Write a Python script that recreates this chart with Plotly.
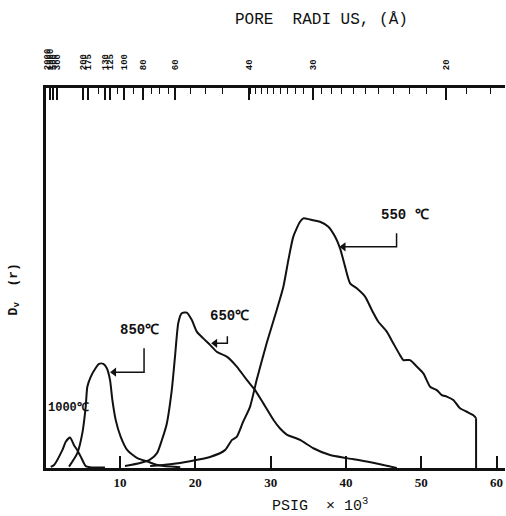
import plotly.graph_objects as go

# ---- data (x = PSIG x 10^3, y = Dv(r) arbitrary units) ----
x1000 = [0.80, 1.24, 2.34, 2.79, 3.36, 3.89, 4.33, 4.78, 5.22, 5.44, 6.0, 8.0]
y1000 = [0.3, 0.8, 4.7, 6.9, 8.0, 6.0, 4.7, 3.0, 1.2, 0.5, 0.2, 0.1]

x850 = [3.23, 4.33, 4.99, 5.44, 5.66, 6.11, 6.77, 7.21, 7.78, 8.23, 8.67, 8.98,
        9.43, 10.09, 10.97, 12.30, 13.63, 14.95, 15.84, 18.0]
y850 = [0.35, 3.9, 9.1, 16.1, 21.4, 24.0, 26.3, 27.4, 27.4, 26.3, 23.2, 17.9,
        12.6, 8.2, 4.7, 2.6, 1.7, 0.8, 0.5, 0.2]

x650 = [10.66, 12.66, 13.98, 14.91, 15.58, 16.20, 16.87, 17.30, 17.74, 18.19,
        18.86, 19.52, 20.19, 21.06, 21.95, 22.84, 24.17, 25.50, 26.83, 27.93,
        29.03, 30.36, 31.25, 32.14, 33.90, 35.67, 37.89, 40.11, 42.76, 44.97, 46.75]
y650 = [0.5, 1.3, 2.2, 3.9, 7.5, 11.6, 20.5, 29.3, 38.2, 40.7,
        40.9, 39.0, 35.9, 34.1, 32.4, 30.6, 29.3, 26.7, 23.2, 20.5,
        17.0, 12.7, 10.4, 8.8, 7.4, 5.2, 3.4, 2.6, 1.7, 0.8, 0.0]

x550 = [14.0, 16.64, 19.30, 21.95, 23.94, 24.87, 25.50, 26.33, 27.26, 28.15,
        29.48, 30.81, 31.69, 32.35, 33.01, 33.90, 34.34, 35.23, 36.56, 37.66,
        38.55, 39.22, 39.88, 40.55, 41.43, 42.54, 43.43, 44.30, 45.42, 46.29,
        47.18, 47.62, 48.51, 49.40, 50.28, 51.17, 52.06, 52.72, 53.39, 54.26,
        55.15, 56.04, 56.92, 57.28, 57.28]
y550 = [0.5, 1.0, 1.8, 2.9, 4.7, 7.4, 8.2, 12.1, 16.1, 23.2,
        32.9, 41.6, 47.7, 54.7, 60.9, 64.8, 65.7, 65.4, 64.8, 63.5,
        60.9, 57.8, 53.0, 48.6, 47.3, 45.1, 41.6, 38.5, 35.9, 32.8,
        29.7, 28.4, 28.4, 26.7, 24.9, 21.4, 20.5, 19.2, 18.8, 17.9,
        15.7, 14.8, 13.9, 13.1, 0.0]

bottom_ticks = [10, 20, 30, 40, 50, 60]

# top axis: pore radius (Angstrom) labels at the pressure positions
radius_labels = ["2000", "1000", "500", "300", "200", "175", "130", "125", "100",
                 "80", "60", "40", "30", "20"]
radius_pos = [0.25, 0.70, 1.15, 1.60, 5.09, 5.80, 8.00, 8.70, 10.53,
              13.05, 17.30, 27.13, 35.60, 53.30]
K_RADIUS = 1065.0  # radius(A) * PSIG(x10^3) for the minor ticks
minor_radii = [18, 19, 21, 22, 23, 24, 25, 26, 27, 28, 29, 31, 32, 33, 34, 35, 36,
               37, 38, 39, 45, 50, 55, 65, 70, 75, 90, 110, 150]

BLACK = "#111111"
MONO = "Liberation Mono, Courier New, monospace"
SERIF = "Liberation Serif, Times New Roman, serif"


def curve(xs, ys, shape="spline"):
    return go.Scatter(x=xs, y=ys, mode="lines",
                      line=dict(color=BLACK, width=2, shape=shape, smoothing=0.6),
                      hoverinfo="skip", showlegend=False)


fig = go.Figure()
fig.add_trace(curve(x1000, y1000))
fig.add_trace(curve(x850, y850))
fig.add_trace(curve(x650, y650))
fig.add_trace(curve(x550[:-1], y550[:-1]))
fig.add_trace(curve(x550[-2:], y550[-2:], shape="linear"))

# invisible traces to activate top axes
fig.add_trace(go.Scatter(x=[1, 60], y=[0, 0], xaxis="x2", mode="markers",
                         marker=dict(opacity=0), showlegend=False, hoverinfo="skip"))
fig.add_trace(go.Scatter(x=[1, 60], y=[0, 0], xaxis="x3", mode="markers",
                         marker=dict(opacity=0), showlegend=False, hoverinfo="skip"))

# leader lines: vertical stub -> corner -> arrow head on the curve
leaders = [  # (label_x, label_y, text, top_y, corner_x, head_x, head_y)
    (47.84, 66.6, "550 ℃", 61.8, 46.72, 39.22, 58.2),
    (24.6, 40.0, "650℃", 34.7, 24.25, 22.18, 32.8),
    (12.65, 36.3, "850℃", 31.5, 13.19, 8.76, 25.2),
]
for lx, ly, txt, ty, cx, hx, hy in leaders:
    fig.add_trace(go.Scatter(x=[cx, cx, hx + 0.5], y=[ty, hy, hy], mode="lines",
                             line=dict(color=BLACK, width=1.5), hoverinfo="skip",
                             showlegend=False))
    fig.add_trace(go.Scatter(x=[hx + 0.45], y=[hy], mode="markers",
                             marker=dict(symbol="triangle-left", size=8, color=BLACK),
                             hoverinfo="skip", showlegend=False))
    fig.add_annotation(x=lx, y=ly, text=txt, showarrow=False,
                       font=dict(family=MONO, size=14, color=BLACK, weight="bold"))

fig.add_annotation(x=3.1, y=15.8, text="1000℃", showarrow=False,
                   font=dict(family=MONO, size=12, color=BLACK, weight="bold"))

XR = [0.17, 61.12]
fig.update_layout(
    width=506, height=516,
    margin=dict(l=46, r=1, t=88, b=48),
    plot_bgcolor="white", paper_bgcolor="white",
    showlegend=False,
    xaxis=dict(range=XR, showgrid=False, zeroline=False, showline=True,
               linecolor=BLACK, linewidth=3, ticks="inside", ticklen=12, tickwidth=1.5,
               tickcolor=BLACK, tickvals=bottom_ticks,
               tickfont=dict(family=SERIF, size=13, color=BLACK, weight="bold")),
    xaxis2=dict(range=XR, overlaying="x", side="top", showgrid=False, zeroline=False,
                showline=True, linecolor=BLACK, linewidth=3, ticks="inside", ticklen=12,
                tickwidth=1.5, tickcolor=BLACK, tickvals=radius_pos, ticktext=radius_labels,
                tickangle=-90, ticklabelstandoff=13,
                tickfont=dict(family=MONO, size=9, color=BLACK, weight="bold")),
    xaxis3=dict(range=XR, overlaying="x", side="top", showgrid=False, zeroline=False,
                showline=False, ticks="inside", ticklen=6, tickwidth=1.2, tickcolor=BLACK,
                tickvals=[K_RADIUS / r for r in minor_radii], showticklabels=False),
    yaxis=dict(range=[0, 100], showgrid=False, zeroline=False, showline=True,
               linecolor=BLACK, linewidth=3, ticks="", showticklabels=False),
)

fig.add_annotation(xref="paper", yref="paper", x=0.601, y=1.179, xanchor="center",
                   yanchor="middle", text="PORE  RADI US, (Å)",
                   showarrow=False, font=dict(family=MONO, size=16, color=BLACK))
fig.add_annotation(xref="paper", yref="paper", x=0.597, y=-0.098, xanchor="center",
                   yanchor="middle", text="PSIG  × 10<sup>3</sup>",
                   showarrow=False, font=dict(family=MONO, size=15, color=BLACK))
fig.add_annotation(xref="paper", yref="paper", x=-0.0697, y=0.47, xanchor="center",
                   yanchor="middle", text="D<sub>v</sub>  (r)",
                   textangle=-90, showarrow=False,
                   font=dict(family=MONO, size=13, color=BLACK, weight="bold"))

fig.write_html("out.html")
